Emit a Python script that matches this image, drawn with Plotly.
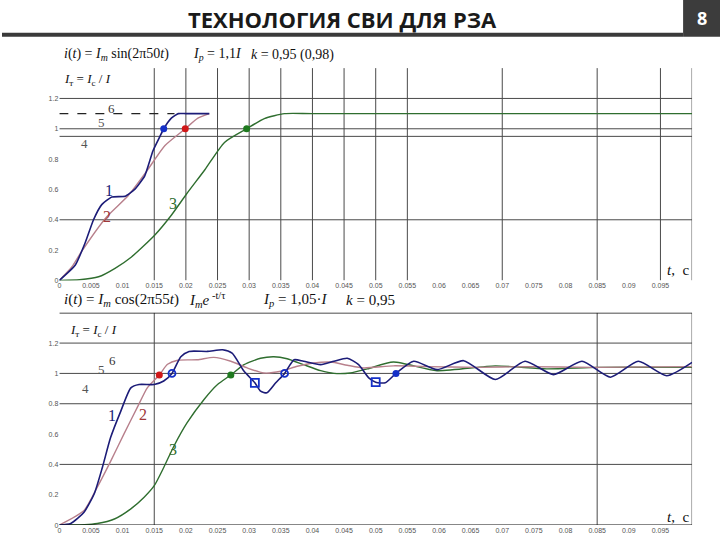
import plotly.graph_objects as go

# ---------------- data ----------------
x_ticks = [0, 0.005, 0.01, 0.015, 0.02, 0.025, 0.03, 0.035, 0.04, 0.045, 0.05,
           0.055, 0.06, 0.065, 0.07, 0.075, 0.08, 0.085, 0.09, 0.095]
x_tick_labels = ["0", "0.005", "0.01", "0.015", "0.02", "0.025", "0.03", "0.035", "0.04", "0.045",
                 "0.05", "0.055", "0.06", "0.065", "0.07", "0.075", "0.08", "0.085", "0.09", "0.095"]
y_ticks = [0, 0.2, 0.4, 0.6, 0.8, 1.0, 1.2]
y_tick_labels = ["0", "0.2", "0.4", "0.6", "0.8", "1", "1.2"]

# top chart (sin 50 Hz)
t1_top = [0, 0.0025, 0.0041, 0.0054, 0.0067, 0.0083, 0.0104, 0.0119, 0.0135, 0.0148,
          0.0159, 0.0165, 0.0177, 0.0188, 0.0200, 0.0237]
v1_top = [0, 0.10, 0.25, 0.40, 0.50, 0.55, 0.555, 0.60, 0.69, 0.855,
          0.95, 1.0, 1.07, 1.1, 1.1, 1.1]
t2_top = [0, 0.002, 0.0035, 0.0075, 0.0109, 0.0138, 0.0167, 0.0199, 0.0219, 0.0237]
v2_top = [0, 0.09, 0.19, 0.42, 0.56, 0.72, 0.89, 1.0, 1.07, 1.1]
t3_top = [0, 0.0032, 0.0062, 0.0088, 0.0114, 0.0151, 0.0177, 0.0201, 0.0230, 0.0261,
          0.0296, 0.0324, 0.0356, 0.040, 0.1]
v3_top = [0, 0.005, 0.024, 0.08, 0.155, 0.30, 0.43, 0.57, 0.73, 0.91,
          1.0, 1.067, 1.10, 1.1, 1.1]
top_marks_t = [0.0165, 0.0199, 0.0296]
top_marks_v = [1.0, 1.0, 1.0]
top_vgrid = [0.015, 0.02, 0.025, 0.03, 0.035, 0.04, 0.045, 0.05, 0.055, 0.07, 0.085, 0.095, 0.1]
top_hgrid = [1.2, 1.0, 0.95, 0.4]
top_dash_level = 1.1
top_dash_end = 0.0182

# bottom chart (cos 55 Hz + aperiodic)
t1_bot = [0, 0.0018, 0.0039, 0.0055, 0.0068, 0.0081, 0.0097, 0.0113, 0.0126, 0.015,
          0.0165, 0.0178, 0.0192, 0.0205, 0.0234, 0.0258, 0.0273, 0.0292, 0.0309, 0.0318,
          0.0328, 0.0342, 0.0356, 0.0371, 0.0386, 0.0413, 0.0434, 0.0455, 0.0473, 0.0489,
          0.0500, 0.0515, 0.0532, 0.056, 0.0597, 0.0639, 0.0689, 0.0736, 0.0781, 0.0826,
          0.0871, 0.0915, 0.096, 0.1]
v1_bot = [0, 0.01, 0.085, 0.205, 0.38, 0.577, 0.75, 0.905, 0.927, 0.927,
          0.95, 1.0, 1.11, 1.145, 1.145, 1.156, 1.134, 1.014, 0.938, 0.883,
          0.872, 0.938, 1.0, 1.09, 1.08, 1.058, 1.08, 1.10, 1.058, 0.97,
          0.942, 0.938, 1.0, 1.08, 1.025, 1.084, 0.96, 1.08, 0.992, 1.08,
          0.975, 1.08, 0.985, 1.073]
t2_bot = [0, 0.0039, 0.006, 0.0081, 0.0102, 0.0123, 0.0139, 0.0158, 0.0171, 0.0187,
          0.0218, 0.0244, 0.0271, 0.0297, 0.0323, 0.035, 0.0376, 0.0402, 0.0429, 0.0455,
          0.0481, 0.0528, 0.058, 0.066, 0.0739, 0.0844, 0.1]
v2_bot = [0, 0.096, 0.25, 0.42, 0.60, 0.774, 0.905, 0.99, 1.06, 1.087,
          1.09, 1.106, 1.08, 1.036, 1.003, 1.014, 1.047, 1.069, 1.075, 1.054,
          1.036, 1.05, 1.045, 1.04, 1.045, 1.04, 1.045]
t3_bot = [0, 0.004, 0.006, 0.0087, 0.0113, 0.0134, 0.015, 0.0165, 0.0181, 0.0202,
          0.0229, 0.025, 0.0271, 0.0292, 0.0318, 0.0339, 0.036, 0.0386, 0.0413, 0.0434,
          0.046, 0.0487, 0.0528, 0.0597, 0.0689, 0.077, 0.085, 0.1]
v3_bot = [0, 0.002, 0.01, 0.04, 0.107, 0.184, 0.26, 0.38, 0.52, 0.675,
          0.83, 0.927, 0.99, 1.058, 1.10, 1.11, 1.097, 1.058, 1.018, 1.0,
          1.003, 1.03, 1.075, 1.018, 1.05, 1.03, 1.04, 1.04]
bot_red_t, bot_red_v = [0.0158], [0.99]
bot_green_t, bot_green_v = [0.0271], [0.99]
bot_blue_circle_t, bot_blue_circle_v = [0.0178, 0.0356], [1.0, 1.0]
bot_blue_square_t, bot_blue_square_v = [0.0309, 0.05], [0.938, 0.942]
bot_blue_dot_t, bot_blue_dot_v = [0.0532], [1.0]
bot_vgrid = [0.015, 0.085, 0.1]
bot_hgrid = [1.2, 1.0, 0.8, 0.4]

# ---------------- styling ----------------
W, H = 720, 540
X0, X1 = 57.5, 692.0
NAVY, ROSE, GREEN = "#1c1c78", "#b8808c", "#2f6e2f"
GRID = "#4a4a4a"
SERIF = "Liberation Serif"

def py(Y):
    return 1 - Y / H

fig = go.Figure()

def add_line(t, v, color, xa, ya, width=1.4, smoothing=0.6):
    fig.add_trace(go.Scatter(x=t, y=v, mode="lines", xaxis=xa, yaxis=ya,
                             line=dict(color=color, width=width, shape="spline", smoothing=smoothing),
                             hoverinfo="skip"))

add_line(t3_top, v3_top, GREEN, "x", "y")
add_line(t2_top, v2_top, ROSE, "x", "y")
add_line(t1_top, v1_top, NAVY, "x", "y", 1.6, 0.45)
fig.add_trace(go.Scatter(x=top_marks_t, y=top_marks_v, mode="markers", xaxis="x", yaxis="y",
                         marker=dict(size=7, color=["#1530c8", "#d01818", "#1f7a1f"]),
                         hoverinfo="skip"))

add_line(t3_bot, v3_bot, GREEN, "x2", "y2")
add_line(t2_bot, v2_bot, ROSE, "x2", "y2")
add_line(t1_bot, v1_bot, NAVY, "x2", "y2", 1.6)
fig.add_trace(go.Scatter(x=bot_red_t, y=bot_red_v, mode="markers", xaxis="x2", yaxis="y2",
                         marker=dict(size=7, color="#d01818"), hoverinfo="skip"))
fig.add_trace(go.Scatter(x=bot_green_t, y=bot_green_v, mode="markers", xaxis="x2", yaxis="y2",
                         marker=dict(size=7, color="#1f7a1f"), hoverinfo="skip"))
fig.add_trace(go.Scatter(x=bot_blue_circle_t, y=bot_blue_circle_v, mode="markers", xaxis="x2", yaxis="y2",
                         marker=dict(size=7, symbol="circle-open", color="#1530c8", line=dict(width=1.8)),
                         hoverinfo="skip"))
fig.add_trace(go.Scatter(x=bot_blue_square_t, y=bot_blue_square_v, mode="markers", xaxis="x2", yaxis="y2",
                         marker=dict(size=8, symbol="square-open", color="#1530c8", line=dict(width=1.8)),
                         hoverinfo="skip"))
fig.add_trace(go.Scatter(x=bot_blue_dot_t, y=bot_blue_dot_v, mode="markers", xaxis="x2", yaxis="y2",
                         marker=dict(size=7, color="#1530c8"), hoverinfo="skip"))

shapes = []
# top chart grid
for g in top_vgrid:
    shapes.append(dict(type="line", xref="x", yref="y", x0=g, x1=g, y0=0, y1=1.4,
                       line=dict(color=GRID, width=1), layer="below"))
for g in top_hgrid:
    shapes.append(dict(type="line", xref="x", yref="y", x0=0, x1=0.1, y0=g, y1=g,
                       line=dict(color=GRID, width=1), layer="below"))
shapes.append(dict(type="line", xref="x", yref="y", x0=0, x1=top_dash_end, y0=top_dash_level,
                   y1=top_dash_level, line=dict(color="#222", width=1.2, dash="dash")))
# bottom chart grid
for g in bot_vgrid:
    shapes.append(dict(type="line", xref="x2", yref="y2", x0=g, x1=g, y0=0, y1=1.4,
                       line=dict(color=GRID, width=1), layer="below"))
for g in bot_hgrid:
    shapes.append(dict(type="line", xref="x2", yref="y2", x0=0, x1=0.1, y0=g, y1=g,
                       line=dict(color=GRID, width=1), layer="below"))
shapes.append(dict(type="line", xref="x2", yref="y2", x0=0, x1=0.1, y0=1.4, y1=1.4,
                   line=dict(color="#111", width=1.5)))
shapes.append(dict(type="line", xref="x2", yref="y2", x0=0, x1=0.1, y0=0, y1=0,
                   line=dict(color="#111", width=1.2)))
# header
shapes.append(dict(type="rect", xref="paper", yref="paper", x0=0, x1=683 / W, y0=py(37), y1=py(33),
                   fillcolor="#3a3a3a", line=dict(width=0)))
shapes.append(dict(type="rect", xref="paper", yref="paper", x0=683 / W, x1=1, y0=py(37), y1=1,
                   fillcolor="#3c3c3c", line=dict(width=0)))

ann = []
ann.append(dict(text="<b>ТЕХНОЛОГИЯ СВИ ДЛЯ РЗА</b>", x=341 / W, y=py(19), xref="paper", yref="paper",
                showarrow=False, xanchor="center", yanchor="middle",
                font=dict(family="Open Sans", size=22, color="#1a1a1a")))
ann.append(dict(text="<b>8</b>", x=702 / W, y=py(18), xref="paper", yref="paper",
                showarrow=False, xanchor="center", yanchor="middle",
                font=dict(family="Open Sans", size=18, color="white")))

def ptext(txt, X, Y, size=14, anchor="left"):
    ann.append(dict(text=txt, x=X / W, y=py(Y), xref="paper", yref="paper", showarrow=False,
                    xanchor=anchor, yanchor="middle", font=dict(family=SERIF, size=size, color="#111")))

# formulas top
ptext("<i>i</i>(<i>t</i>) = <i>I<sub>m</sub></i> sin(2π50<i>t</i>)", 60, 55, 14)
ptext("<i>I<sub>р</sub></i> = 1,1<i>I</i>", 190, 55, 14)
ptext("<i>k</i> = 0,95 (0,98)", 248, 55, 14)
ptext("<i>I</i><sub>т</sub> = <i>I</i><sub>с</sub> / <i>I</i>", 60, 80, 13)
ptext("<i>t</i>,  с", 665, 272, 15)
# formulas bottom
ptext("<i>i</i>(<i>t</i>) = <i>I<sub>m</sub></i> cos(2π55<i>t</i>)", 60, 302, 15)
ptext("<i>I<sub>m</sub>e</i><sup> -t/τ</sup>", 186, 302, 15)
ptext("<i>I<sub>р</sub></i> = 1,05·<i>I</i>", 260, 302, 15)
ptext("<i>k</i> = 0,95", 343, 302, 15)
ptext("<i>I</i><sub>т</sub> = <i>I</i><sub>с</sub> / <i>I</i>", 66, 332, 13)
ptext("<i>t</i>,  с", 665, 520, 15)

def dlabel(txt, t, v, xa, ya, color, size):
    ann.append(dict(text=txt, x=t, y=v, xref=xa, yref=ya, showarrow=False,
                    xanchor="center", yanchor="middle", font=dict(family=SERIF, size=size, color=color)))

# curve labels top
dlabel("6", 0.0083, 1.134, "x", "y", "#333", 13)
dlabel("5", 0.0067, 1.043, "x", "y", "#555", 13)
dlabel("4", 0.0040, 0.905, "x", "y", "#555", 13)
dlabel("1", 0.0078, 0.59, "x", "y", NAVY, 16)
dlabel("2", 0.0075, 0.42, "x", "y", "#a03838", 16)
dlabel("3", 0.0180, 0.505, "x", "y", GREEN, 16)
# curve labels bottom
dlabel("6", 0.0084, 1.082, "x2", "y2", "#333", 13)
dlabel("5", 0.0067, 1.023, "x2", "y2", "#555", 13)
dlabel("4", 0.0042, 0.898, "x2", "y2", "#555", 13)
dlabel("1", 0.0084, 0.72, "x2", "y2", NAVY, 16)
dlabel("2", 0.0132, 0.728, "x2", "y2", "#a03838", 16)
dlabel("3", 0.0179, 0.498, "x2", "y2", GREEN, 16)

tickfont = dict(family="Liberation Sans", size=7, color="#555")
xcommon = dict(range=[0, 0.1], domain=[X0 / W, X1 / W], tickvals=x_ticks, ticktext=x_tick_labels,
               showgrid=False, zeroline=False, showline=False, ticks="", tickfont=tickfont,
               fixedrange=True)
ycommon = dict(range=[0, 1.4], tickvals=y_ticks, ticktext=y_tick_labels, showgrid=False,
               zeroline=False, showline=False, ticks="", tickfont=tickfont, fixedrange=True)

fig.update_layout(
    width=W, height=H, margin=dict(l=0, r=0, t=0, b=0),
    paper_bgcolor="white", plot_bgcolor="white", showlegend=False,
    xaxis=dict(**xcommon, anchor="y"),
    yaxis=dict(**ycommon, domain=[py(282), py(68.5)], anchor="x"),
    xaxis2=dict(**xcommon, anchor="y2"),
    yaxis2=dict(**ycommon, domain=[py(528), py(314.5)], anchor="x2"),
    shapes=shapes, annotations=ann,
)

fig.write_html("out.html", config={"displayModeBar": False},
               post_script="document.body.style.margin='0px';")
